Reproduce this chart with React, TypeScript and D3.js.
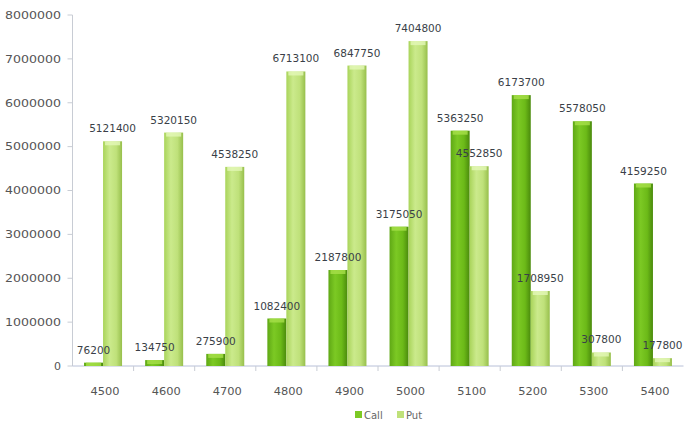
import React from "react";
import * as d3 from "d3";

const categories = ["4500", "4600", "4700", "4800", "4900", "5000", "5100", "5200", "5300", "5400"];
const callValues = [76200, 134750, 275900, 1082400, 2187800, 3175050, 5363250, 6173700, 5578050, 4159250];
const putValues = [5121400, 5320150, 4538250, 6713100, 6847750, 7404800, 4552850, 1708950, 307800, 177800];
const seriesNames = ["Call", "Put"];
const yTicks = [0, 1000000, 2000000, 3000000, 4000000, 5000000, 6000000, 7000000, 8000000];

const W = 688;
const H = 424;
const plotLeft = 72.5;
const plotRight = 683.5;
const plotTop = 15;
const plotBottom = 366;

export default function App() {
  const x = d3.scaleBand<string>().domain(categories).range([plotLeft, plotRight]).paddingInner(0).paddingOuter(0);
  const y = d3.scaleLinear().domain([0, 8000000]).range([plotBottom, plotTop]);
  const inner = d3.scaleBand<string>().domain(seriesNames).range([-19, 19]).padding(0);
  const series = [
    { name: "Call", values: callValues, grad: "gCall", cap: "#a8e04a" },
    { name: "Put", values: putValues, grad: "gPut", cap: "#e4f7b8" },
  ];
  const font = "'DejaVu Sans', Verdana, sans-serif";
  return (
    <svg width={W} height={H} style={{ position: "absolute", left: 0, top: 0, background: "#fff" }}>
      <defs>
        <linearGradient id="gCall" x1="0" x2="1" y1="0" y2="0">
          <stop offset="0" stopColor="#5fa815" />
          <stop offset="0.35" stopColor="#7cc924" />
          <stop offset="0.7" stopColor="#6cba18" />
          <stop offset="1" stopColor="#4a8a0c" />
        </linearGradient>
        <linearGradient id="gPut" x1="0" x2="1" y1="0" y2="0">
          <stop offset="0" stopColor="#a9d45a" />
          <stop offset="0.35" stopColor="#cbea8c" />
          <stop offset="0.7" stopColor="#bfe17a" />
          <stop offset="1" stopColor="#97bf4c" />
        </linearGradient>
      </defs>
      {/* y axis */}
      <line x1={plotLeft} x2={plotLeft} y1={plotTop} y2={plotBottom} stroke="#c8ccd4" strokeWidth={1} />
      {yTicks.map((t) => (
        <g key={t}>
          <line x1={plotLeft - 5} x2={plotLeft} y1={y(t)} y2={y(t)} stroke="#c8ccd4" />
          <text
            x={61}
            y={y(t)}
            dy="0.35em"
            textAnchor="end"
            fontFamily={font}
            fontSize={11}
            fill="#555"
            textLength={t === 0 ? undefined : 56}
            lengthAdjust="spacingAndGlyphs"
          >
            {t}
          </text>
        </g>
      ))}
      {/* x axis */}
      <line x1={plotLeft} x2={plotRight} y1={plotBottom} y2={plotBottom} stroke="#b8c0d8" strokeWidth={1} />
      {categories.map((c, i) => (
        <g key={c}>
          {i > 0 && (
            <line x1={x(c)!} x2={x(c)!} y1={plotBottom} y2={plotBottom + 5} stroke="#c8ccd4" />
          )}
          <text
            x={x(c)! + x.bandwidth() / 2 + 2}
            y={391}
            dy="0.35em"
            textAnchor="middle"
            fontFamily={font}
            fontSize={11}
            fill="#555"
            textLength={29}
            lengthAdjust="spacingAndGlyphs"
          >
            {c}
          </text>
        </g>
      ))}
      {/* bars */}
      {series.map((s) =>
        categories.map((c, i) => {
          const bx = x(c)! + x.bandwidth() / 2 + inner(s.name)!;
          const bw = inner.bandwidth();
          const top = y(s.values[i]);
          const h = plotBottom - top;
          return (
            <g key={s.name + c}>
              <rect x={bx} y={top} width={bw} height={h} fill={`url(#${s.grad})`} />
              <rect x={bx + 2} y={top} width={bw - 4} height={Math.min(4, h)} fill={s.cap} opacity={0.8} />
            </g>
          );
        })
      )}
      {/* labels */}
      {series.map((s) =>
        categories.map((c, i) => {
          const bx = x(c)! + x.bandwidth() / 2 + inner(s.name)! + inner.bandwidth() / 2;
          const top = y(s.values[i]);
          return (
            <text
              key={"l" + s.name + c}
              x={bx}
              y={top - 9}
              textAnchor="middle"
              fontFamily={font}
              fontSize={10.5}
              fill="#3a3f48"
            >
              {s.values[i]}
            </text>
          );
        })
      )}
      {/* legend */}
      <g fontFamily={font} fontSize={10} fill="#666">
        <rect x={355} y={411} width={7} height={7} fill="#7cc924" />
        <text x={364} y={415} dy="0.35em">{seriesNames[0]}</text>
        <rect x={397} y={411} width={7} height={7} fill="#bfe17a" />
        <text x={406} y={415} dy="0.35em">{seriesNames[1]}</text>
      </g>
    </svg>
  );
}
